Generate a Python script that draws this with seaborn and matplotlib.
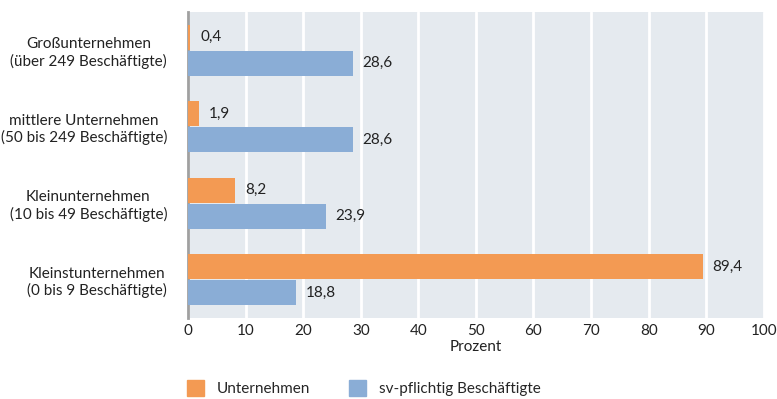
import matplotlib
matplotlib.use("Agg")
import matplotlib.pyplot as plt
import matplotlib.patches as mpatches
import seaborn as sns
import pandas as pd

categories = ["Großunternehmen\n(über 249 Beschäftigte)",
              "mittlere Unternehmen\n(50 bis 249 Beschäftigte)",
              "Kleinunternehmen\n(10 bis 49 Beschäftigte)",
              "Kleinstunternehmen\n(0 bis 9 Beschäftigte)"]
unternehmen = [0.4, 1.9, 8.2, 89.4]
beschaeftigte = [28.6, 28.6, 23.9, 18.8]
series = ["Unternehmen", "sv-pflichtig Beschäftigte"]
colors = ["#f39a53", "#8aadd6"]
xticks = list(range(0, 101, 10))

df = pd.DataFrame({
    "cat": categories * 2,
    "val": unternehmen + beschaeftigte,
    "series": [series[0]] * 4 + [series[1]] * 4,
})

sns.set_theme(style="white")
plt.rcParams['font.family'] = ['Lato', 'DejaVu Sans']

fig = plt.figure(figsize=(7.77, 3.99), dpi=100)
ax = fig.add_axes([0.242, 0.203, 0.741, 0.767])
ax.set_facecolor("#e5eaef")

sns.barplot(data=df, y="cat", x="val", hue="series", order=categories,
            hue_order=series, palette=colors, orient="h", width=0.68,
            gap=0.03, ax=ax, legend=False, saturation=1, linewidth=0)
for p in ax.patches:
    p.set_zorder(3)

ax.set_xlim(0, 100)
ax.set_ylim(3.5, -0.5)
ax.set_xticks(xticks)
ax.set_xticklabels([str(t) for t in xticks], fontsize=11, color="#222222")
ax.tick_params(axis="y", labelsize=11, labelcolor="#222222", length=0, pad=15)
ax.tick_params(axis="x", length=0, pad=4)
for lab in ax.get_yticklabels():
    lab.set_horizontalalignment("right")
    lab.set_multialignment("center")
ax.set_axisbelow(True)
ax.grid(axis="x", color="white", linewidth=2)
ax.set_ylabel("")
ax.set_xlabel("Prozent", fontsize=11, color="#222222", labelpad=2)
for s in ["top", "right", "bottom"]:
    ax.spines[s].set_visible(False)
ax.spines["left"].set_color("#a0a0a0")
ax.spines["left"].set_linewidth(2)
ax.spines["left"].set_zorder(2)

for cont in ax.containers:
    labels = [f"{b.get_width():.1f}".replace(".", ",") for b in cont]
    ax.bar_label(cont, labels=labels, padding=7, fontsize=11, color="#222222")

handles = [mpatches.Patch(color=c, label=s) for c, s in zip(colors, series)]
fig.legend(handles=handles, loc="lower left", bbox_to_anchor=(0.223, -0.028),
           ncol=2, frameon=False, fontsize=11, handlelength=1.1,
           handleheight=1.2, columnspacing=2.55, handletextpad=0.85)

fig.savefig("out.png", dpi=100)
